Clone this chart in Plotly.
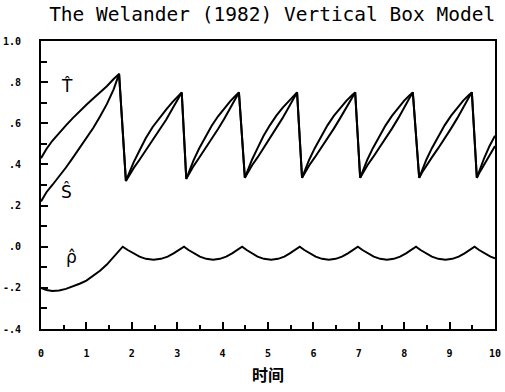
import plotly.graph_objects as go

# ---- data ----
t_ts = [0.00, 0.12, 0.25, 0.40, 0.55, 0.70, 0.85, 1.00, 1.15, 1.30, 1.45, 1.60, 1.72,
        1.87, 1.94, 2.04, 2.17, 2.31, 2.46, 2.61, 2.76, 2.90, 3.03, 3.10,
        3.20, 3.27, 3.36, 3.48, 3.62, 3.76, 3.90, 4.04, 4.17, 4.29, 4.36,
        4.49, 4.56, 4.65, 4.77, 4.90, 5.04, 5.18, 5.32, 5.46, 5.57, 5.64,
        5.75, 5.82, 5.91, 6.03, 6.17, 6.31, 6.45, 6.59, 6.73, 6.85, 6.92,
        7.03, 7.10, 7.19, 7.31, 7.45, 7.59, 7.73, 7.87, 8.00, 8.12, 8.19,
        8.33, 8.40, 8.49, 8.61, 8.75, 8.89, 9.03, 9.17, 9.30, 9.42, 9.49,
        9.60, 9.67, 9.76, 9.88, 10.00]

T_hat = [0.43, 0.475, 0.515, 0.555, 0.59, 0.625, 0.66, 0.69, 0.72, 0.75, 0.78, 0.815, 0.84,
         0.32, 0.36, 0.41, 0.468, 0.528, 0.582, 0.628, 0.668, 0.704, 0.733, 0.75,
         0.33, 0.37, 0.42, 0.476, 0.536, 0.588, 0.634, 0.673, 0.708, 0.735, 0.75,
         0.335, 0.375, 0.424, 0.479, 0.538, 0.590, 0.636, 0.675, 0.710, 0.736, 0.75,
         0.335, 0.375, 0.424, 0.479, 0.538, 0.590, 0.636, 0.675, 0.710, 0.736, 0.75,
         0.335, 0.375, 0.424, 0.479, 0.538, 0.590, 0.636, 0.675, 0.710, 0.736, 0.75,
         0.335, 0.375, 0.424, 0.479, 0.538, 0.590, 0.636, 0.675, 0.710, 0.736, 0.75,
         0.335, 0.38, 0.43, 0.49, 0.54]

S_hat = [0.22, 0.265, 0.30, 0.342, 0.385, 0.432, 0.48, 0.525, 0.577, 0.633, 0.693, 0.765, 0.84,
         0.32, 0.348, 0.382, 0.423, 0.469, 0.517, 0.566, 0.618, 0.673, 0.72, 0.75,
         0.33, 0.358, 0.392, 0.431, 0.477, 0.523, 0.572, 0.623, 0.677, 0.722, 0.75,
         0.335, 0.363, 0.396, 0.434, 0.479, 0.525, 0.574, 0.625, 0.679, 0.724, 0.75,
         0.335, 0.363, 0.396, 0.434, 0.479, 0.525, 0.574, 0.625, 0.679, 0.724, 0.75,
         0.335, 0.363, 0.396, 0.434, 0.479, 0.525, 0.574, 0.625, 0.679, 0.724, 0.75,
         0.335, 0.363, 0.396, 0.434, 0.479, 0.525, 0.574, 0.625, 0.679, 0.724, 0.75,
         0.335, 0.365, 0.40, 0.445, 0.49]

t_rho = [0.00, 0.12, 0.25, 0.40, 0.55, 0.70, 0.85, 1.00, 1.15, 1.30, 1.45, 1.60, 1.72,
         1.80, 1.91, 2.03, 2.17, 2.31, 2.48, 2.64, 2.79, 2.92, 3.04,
         3.15, 3.25, 3.37, 3.50, 3.64, 3.79, 3.94, 4.08, 4.21, 4.33,
         4.43, 4.53, 4.65, 4.77, 4.91, 5.07, 5.22, 5.36, 5.48, 5.60,
         5.70, 5.80, 5.92, 6.05, 6.19, 6.34, 6.49, 6.63, 6.76, 6.88,
         6.98, 7.08, 7.20, 7.33, 7.47, 7.62, 7.77, 7.91, 8.04, 8.16,
         8.26, 8.36, 8.48, 8.61, 8.75, 8.91, 9.06, 9.20, 9.33, 9.45,
         9.55, 9.65, 9.77, 9.90, 10.00]

rho_hat = [-0.20, -0.21, -0.215, -0.213, -0.205, -0.193, -0.18, -0.165, -0.143, -0.117, -0.087, -0.05, -0.015,
           0.0, -0.016, -0.032, -0.048, -0.059, -0.063, -0.059, -0.048, -0.032, -0.016,
           0.0, -0.016, -0.032, -0.048, -0.059, -0.063, -0.059, -0.048, -0.032, -0.016,
           0.0, -0.016, -0.032, -0.048, -0.059, -0.063, -0.059, -0.048, -0.032, -0.016,
           0.0, -0.016, -0.032, -0.048, -0.059, -0.063, -0.059, -0.048, -0.032, -0.016,
           0.0, -0.016, -0.032, -0.048, -0.059, -0.063, -0.059, -0.048, -0.032, -0.016,
           0.0, -0.016, -0.032, -0.048, -0.059, -0.063, -0.059, -0.048, -0.032, -0.016,
           0.0, -0.016, -0.032, -0.048, -0.056]

x_tickvals = [0, 1, 2, 3, 4, 5, 6, 7, 8, 9, 10]
x_ticktext = ["0", "1", "2", "3", "4", "5", "6", "7", "8", "9", "10"]
y_tickvals = [1.0, 0.8, 0.6, 0.4, 0.2, 0.0, -0.2, -0.4]
y_ticktext = ["1.0", ".8", ".6", ".4", ".2", ".0", "-.2", "-.4"]

title_text = "The Welander (1982) Vertical Box Model"
x_title = "时间"

line_style = dict(color="black", width=2)

fig = go.Figure()
fig.add_trace(go.Scatter(x=t_ts, y=T_hat, mode="lines", line=line_style, name="T"))
fig.add_trace(go.Scatter(x=t_ts, y=S_hat, mode="lines", line=line_style, name="S"))
fig.add_trace(go.Scatter(x=t_rho, y=rho_hat, mode="lines", line=line_style, name="rho"))

label_font = dict(family="DejaVu Sans", size=17, color="black")
fig.add_annotation(x=0.57, y=0.78, text="T\u0302", showarrow=False, font=label_font)
fig.add_annotation(x=0.57, y=0.27, text="S\u0302", showarrow=False, font=label_font)
fig.add_annotation(x=0.68, y=-0.05, text="\u03c1\u0302", showarrow=False, font=label_font)

axis_common = dict(showline=True, linecolor="black", linewidth=2, mirror=True,
                   showgrid=False, zeroline=False, ticks="inside",
                   tickcolor="black", tickwidth=2, automargin=False,
                   ticklabeloverflow="allow",
                   tickfont=dict(family="DejaVu Sans Mono", size=10, color="black", weight="bold"))

fig.update_xaxes(range=[0, 10], tickmode="array", tickvals=x_tickvals, ticktext=x_ticktext,
                 ticklen=7, ticklabelstandoff=14,
                 minor=dict(dtick=0.5, ticks="inside", ticklen=4, tickcolor="black", tickwidth=2),
                 title=dict(text=x_title, standoff=12,
                            font=dict(family="Noto Sans CJK SC", size=16, color="black", weight="bold")),
                 **axis_common)
fig.update_yaxes(range=[-0.4, 1.0], tickmode="array", tickvals=y_tickvals, ticktext=y_ticktext,
                 ticklen=7, ticklabelstandoff=16,
                 minor=dict(dtick=0.1, ticks="inside", ticklen=6, tickcolor="black", tickwidth=2),
                 **axis_common)

fig.update_layout(
    width=505, height=392,
    margin=dict(l=41, r=10, t=41, b=63),
    paper_bgcolor="white", plot_bgcolor="white",
    showlegend=False,
    title=dict(text=title_text, x=0.539, xanchor="center", y=0.963, yanchor="middle",
               font=dict(family="DejaVu Sans Mono", size=19.5, color="black")),
)

# remove the browser's default page margin so the figure sits at the window's top-left corner
fig.write_html("out.html", config={"displayModeBar": False},
               post_script="document.body.style.margin='0';")
